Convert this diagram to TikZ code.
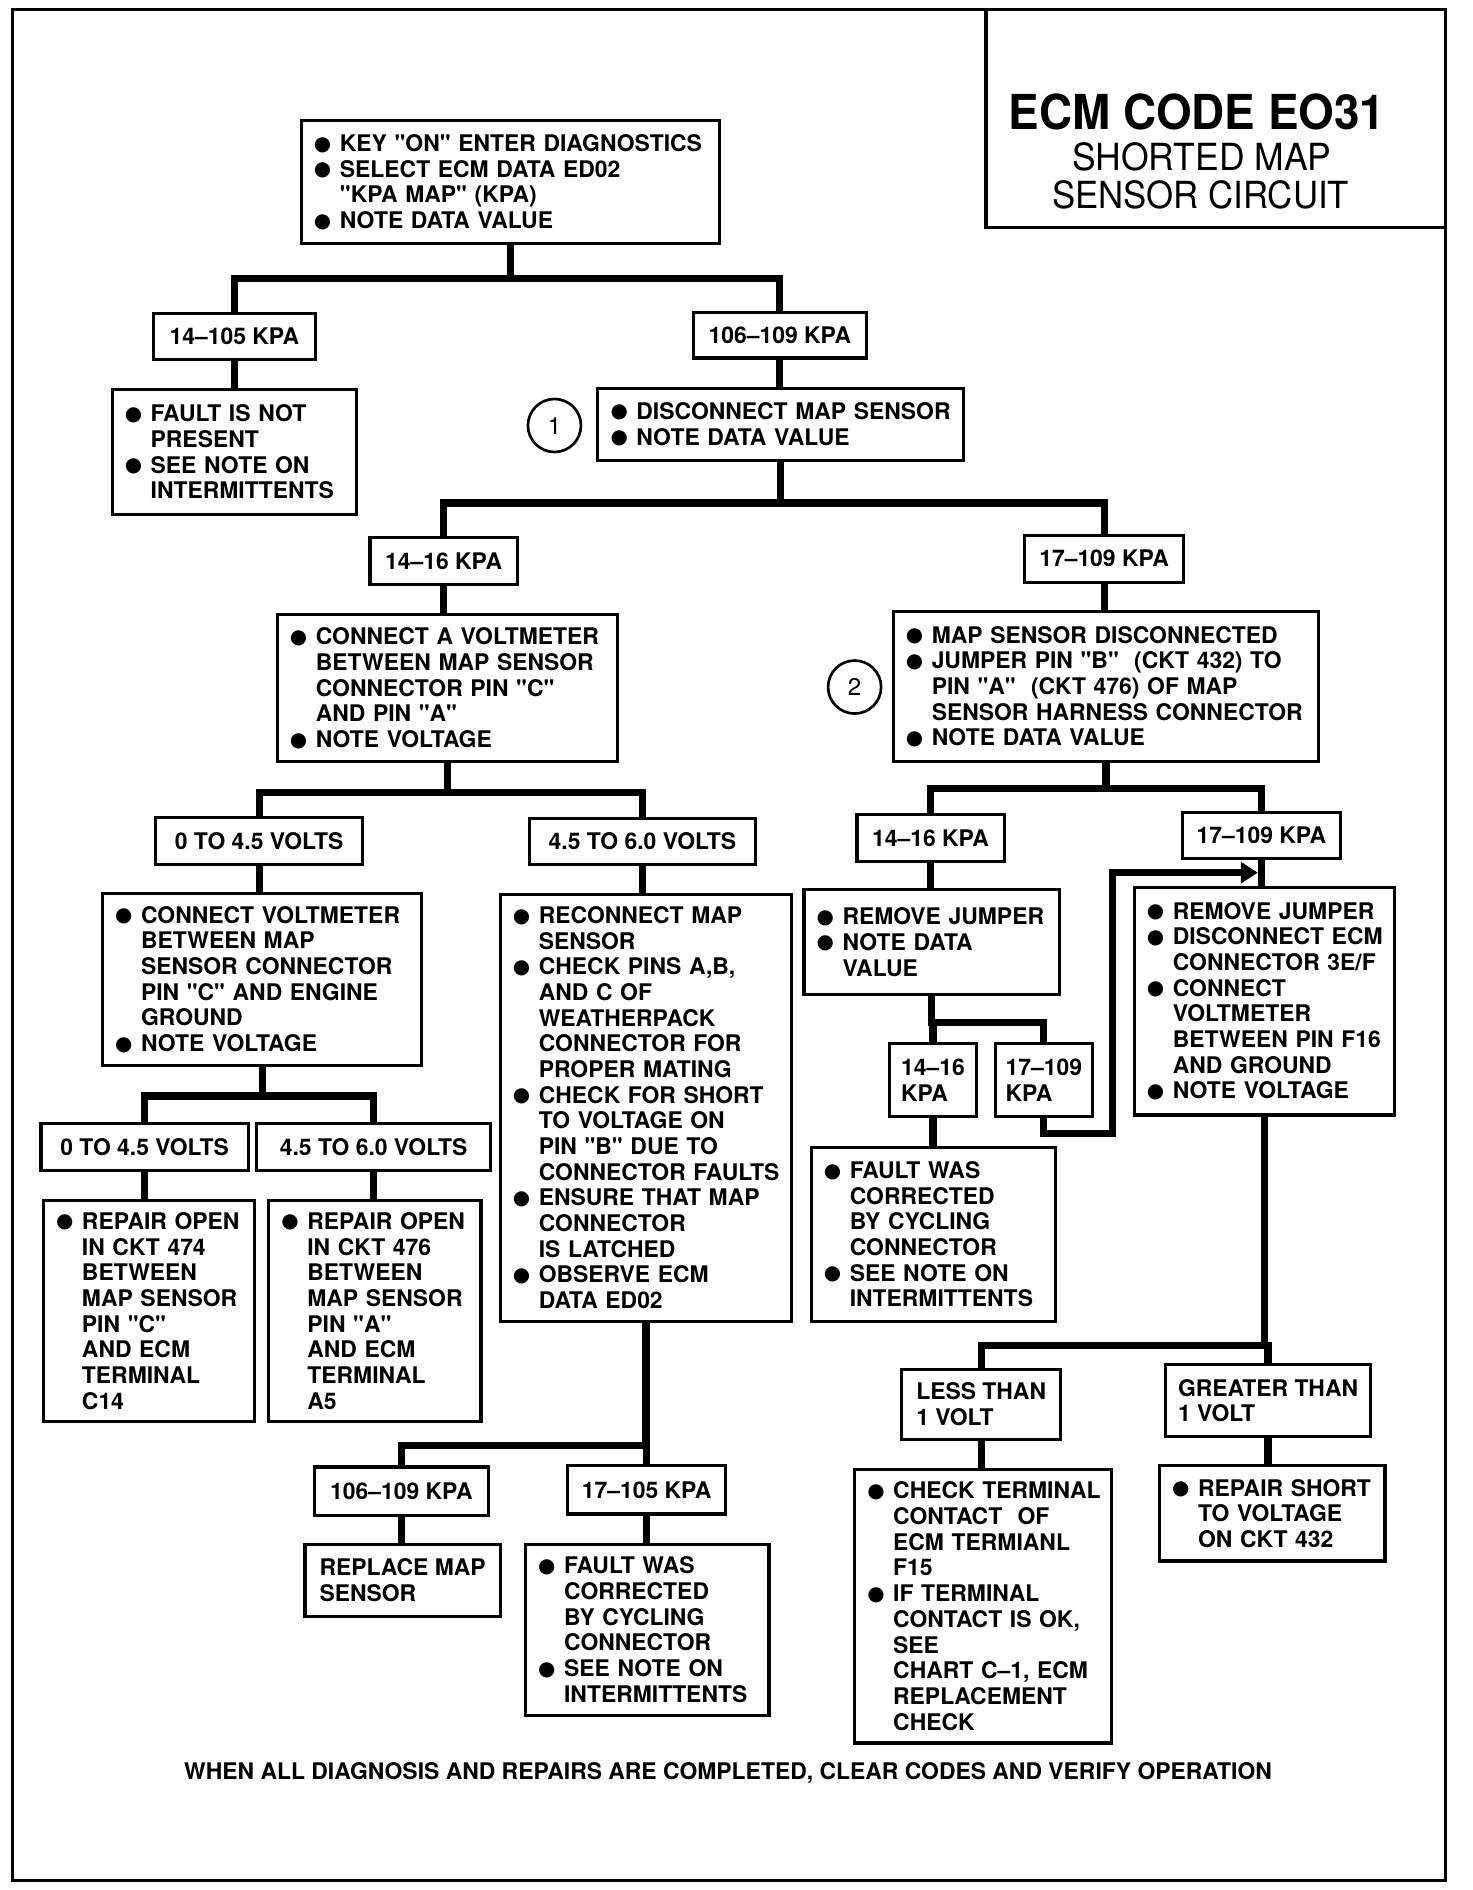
\documentclass[tikz,border=0pt]{standalone}
\usepackage{fontspec}
\usepackage{graphicx}
\newfontfamily\heros{TeX Gyre Heros}
\newfontfamily\dotfont{DejaVu Sans}
\usetikzlibrary{arrows.meta}
\newcommand{\bul}{\makebox[30pt][l]{\hspace{8.5pt}\raisebox{1.2pt}{\dotfont\fontsize{16.5}{16.5}\selectfont ●}}}
\newcommand{\ind}{\hspace*{30pt}}
\begin{document}
\begin{tikzpicture}[x=1pt,y=-1pt,
	font=\heros\fontsize{19}{21.3}\selectfont\bfseries,
	box/.style={draw,line width=2.6pt,inner xsep=2pt,inner ysep=2pt,align=left},
	tag/.style={draw,line width=2.6pt,inner sep=2pt,align=left},
	link/.style={line width=6pt},
	badge/.style={draw,circle,line width=2.2pt,minimum size=44pt,inner sep=0pt,font=\heros\fontsize{20}{20}\selectfont\mdseries},
	head/.style={inner sep=0pt,font=\heros\fontsize{31}{31}\selectfont\mdseries}]
	\useasboundingbox (0,0) rectangle (1221.5,1568);
	\draw[line width=2.5pt] (10,8) rectangle (1199,1560);
	\node[draw,line width=2.5pt,minimum width=381pt,minimum height=181pt,inner sep=0pt] (title) at (1008.5,98.5) {};
	\node[inner sep=0pt,font=\heros\fontsize{40}{40}\selectfont\bfseries] (code) at (993,93) {\scalebox{0.95}[1]{ECM CODE EO31}};
	\node[head] (name) at (997,130) {\scalebox{0.95}[1]{SHORTED MAP}};
	\node[head] (circuit) at (996,162) {\scalebox{0.93}[1]{SENSOR CIRCUIT}};

	\node[box,text width=343pt,minimum height=102pt] (keyon) at (423.5,151) {\bul KEY "ON" ENTER DIAGNOSTICS\\\bul SELECT ECM DATA ED02\\\ind "KPA MAP" (KPA)\\\bul NOTE DATA VALUE};
	\node[tag,minimum width=135pt,minimum height=38pt] (kpa105) at (194.5,279) {14–105 KPA};
	\node[tag,minimum width=144pt,minimum height=38pt] (kpa106) at (647,278) {106–109 KPA};
	\node[box,text width=199pt,minimum height=104pt] (nofault) at (194.5,375) {\bul FAULT IS NOT\\\ind PRESENT\\\bul SEE NOTE ON\\\ind INTERMITTENTS};
	\node[badge] (mark1) at (460,353) {1};
	\node[box,text width=299pt,minimum height=60pt] (unplug) at (647.5,352) {\bul DISCONNECT MAP SENSOR\\\bul NOTE DATA VALUE};
	\node[tag,minimum width=122pt,minimum height=39pt] (kpa16) at (368,465.5) {14–16 KPA};
	\node[tag,minimum width=132pt,minimum height=39pt] (kpa17) at (916,463.5) {17–109 KPA};
	\node[box,text width=278pt,minimum height=122pt] (probe) at (371,571) {\bul CONNECT A VOLTMETER\\\ind BETWEEN MAP SENSOR\\\ind CONNECTOR PIN "C"\\\ind AND PIN "A"\\\bul NOTE VOLTAGE};
	\node[badge] (mark2) at (709,570) {2};
	\node[box,text width=349pt,minimum height=125pt] (jumper) at (917.5,569.5) {\bul MAP SENSOR DISCONNECTED\\\bul JUMPER PIN "B"\ \ (CKT 432) TO\\\ind PIN "A"\ \ (CKT 476) OF MAP\\\ind SENSOR HARNESS CONNECTOR\\\bul NOTE DATA VALUE};

	\node[tag,minimum width=172pt,minimum height=39pt] (volts45) at (215,697.5) {0 TO 4.5 VOLTS};
	\node[tag,minimum width=188pt,minimum height=38pt] (volts60) at (533,698) {4.5 TO 6.0 VOLTS};
	\node[tag,minimum width=122pt,minimum height=39pt] (jump16) at (772,695.5) {14–16 KPA};
	\node[tag,minimum width=131pt,minimum height=38pt] (jump17) at (1046.5,693) {17–109 KPA};
	\node[box,text width=261pt,minimum height=143pt] (probegnd) at (217.5,812.5) {\bul CONNECT VOLTMETER\\\ind BETWEEN MAP\\\ind SENSOR CONNECTOR\\\ind PIN "C" AND ENGINE\\\ind GROUND\\\bul NOTE VOLTAGE};
	\node[box,text width=238pt,minimum height=354pt] (reconnect) at (536,919) {\bul RECONNECT MAP\\\ind SENSOR\\\bul CHECK PINS A,B,\\\ind AND C OF\\\ind WEATHERPACK\\\ind CONNECTOR FOR\\\ind PROPER MATING\\\bul CHECK FOR SHORT\\\ind TO VOLTAGE ON\\\ind PIN "B" DUE TO\\\ind CONNECTOR FAULTS\\\bul ENSURE THAT MAP\\\ind CONNECTOR\\\ind IS LATCHED\\\bul OBSERVE ECM\\\ind DATA ED02};
	\node[box,text width=208pt,minimum height=87pt] (unjump) at (773,781.5) {\bul REMOVE JUMPER\\\bul NOTE DATA\\\ind VALUE};
	\node[box,text width=212pt,minimum height=189pt] (ecmprobe) at (1049,830.5) {\bul REMOVE JUMPER\\\bul DISCONNECT ECM\\\ind CONNECTOR 3E/F\\\bul CONNECT\\\ind VOLTMETER\\\ind BETWEEN PIN F16\\\ind AND GROUND\\\bul NOTE VOLTAGE};

	\node[tag,minimum width=172pt,minimum height=39pt] (gnd45) at (120,951.5) {0 TO 4.5 VOLTS};
	\node[tag,minimum width=194pt,minimum height=39pt] (gnd60) at (310,951.5) {4.5 TO 6.0 VOLTS};
	\node[box,text width=171pt,minimum height=183pt] (open474) at (123.5,1087.5) {\bul REPAIR OPEN\\\ind IN CKT 474\\\ind BETWEEN\\\ind MAP SENSOR\\\ind PIN "C"\\\ind AND ECM\\\ind TERMINAL\\\ind C14};
	\node[box,text width=172pt,minimum height=183pt] (open476) at (311,1087.5) {\bul REPAIR OPEN\\\ind IN CKT 476\\\ind BETWEEN\\\ind MAP SENSOR\\\ind PIN "A"\\\ind AND ECM\\\ind TERMINAL\\\ind A5};
	\node[tag,minimum width=72pt,minimum height=60pt] (rej16) at (774,896) {14–16\\KPA};
	\node[tag,minimum width=80pt,minimum height=60pt] (rej17) at (866,896) {17–109\\KPA};
	\node[box,text width=199pt,minimum height=144pt] (cycled) at (774.5,1024) {\bul FAULT WAS\\\ind CORRECTED\\\ind BY CYCLING\\\ind CONNECTOR\\\bul SEE NOTE ON\\\ind INTERMITTENTS};
	\node[tag,minimum width=132pt,minimum height=58pt] (lessv) at (814,1165) {LESS THAN\\1 VOLT};
	\node[tag,minimum width=170pt,minimum height=60pt] (morev) at (1052,1162) {GREATER THAN\\1 VOLT};
	\node[box,text width=209pt,minimum height=227pt] (terminal) at (815.5,1332.5) {\bul CHECK TERMINAL\\\ind CONTACT\ \ OF\\\ind ECM TERMIANL\\\ind F15\\\bul IF TERMINAL\\\ind CONTACT IS OK,\\\ind SEE\\\ind CHART C–1, ECM\\\ind REPLACEMENT\\\ind CHECK};
	\node[box,text width=183pt,minimum height=79pt] (short432) at (1055.5,1255.5) {\bul REPAIR SHORT\\\ind TO VOLTAGE\\\ind ON CKT 432};
	\node[tag,minimum width=144pt,minimum height=40pt] (ed106) at (333,1237) {106–109 KPA};
	\node[tag,minimum width=131pt,minimum height=40pt] (ed17) at (536.5,1236) {17–105 KPA};
	\node[tag,minimum width=162pt,minimum height=60pt] (replace) at (334,1311) {REPLACE MAP\\SENSOR};
	\node[box,text width=198pt,minimum height=142pt] (cycledb) at (537,1352) {\bul FAULT WAS\\\ind CORRECTED\\\ind BY CYCLING\\\ind CONNECTOR\\\bul SEE NOTE ON\\\ind INTERMITTENTS};
	\node (footer) at (604,1471) {WHEN ALL DIAGNOSIS AND REPAIRS ARE COMPLETED, CLEAR CODES AND VERIFY OPERATION};

	\draw[link] (keyon.south) -- ++(0,28) -| (kpa105.north);
	\draw[link] (keyon.south) -- ++(0,28) -| (kpa106.north);
	\draw[link] (kpa105.south) -- (kpa105.south |- nofault.north);
	\draw[link] (kpa106.south) -- (kpa106.south |- unplug.north);
	\draw[link] (unplug.south) -- ++(0,34) -| (kpa16.north);
	\draw[link] (unplug.south) -- ++(0,34) -| (kpa17.north);
	\draw[link] (kpa16.south) -- (kpa16.south |- probe.north);
	\draw[link] (kpa17.south) -- (kpa17.south |- jumper.north);
	\draw[link] (probe.south) -- ++(0,24) -| (volts45.north);
	\draw[link] (probe.south) -- ++(0,24) -| (volts60.north);
	\draw[link] (jumper.south) -- ++(0,21) -| (jump16.north);
	\draw[link] (jumper.south) -- ++(0,21) -| (jump17.north);
	\draw[link] (volts45.south) -- (volts45.south |- probegnd.north);
	\draw[link] (volts60.south) -- (volts60.south |- reconnect.north);
	\draw[link] (jump16.south) -- (jump16.south |- unjump.north);
	\draw[link] (jump17.south) -- (jump17.south |- ecmprobe.north);
	\draw[link] (probegnd.south) -- ++(0,24) -| (gnd45.north);
	\draw[link] (probegnd.south) -- ++(0,24) -| (gnd60.north);
	\draw[link] (gnd45.south) -- (gnd45.south |- open474.north);
	\draw[link] (gnd60.south) -- (gnd60.south |- open476.north);
	\draw[link] (unjump.south) -- ++(0,22) -| (rej16.north);
	\draw[link] (unjump.south) -- ++(0,22) -| (rej17.north);
	\draw[link] (rej16.south) -- (rej16.south |- cycled.north);
	\coordinate (bend) at (923,724);
	\coordinate (hit) at (jump17.south |- bend);
	\draw[link,-{Triangle[length=14pt,width=17pt]},shorten >=3pt] (rej17.south) -- ++(0,13) -| (bend) -- (hit);
	\draw[link] (ecmprobe.south) -- ++(0,190) -| (lessv.north);
	\draw[link] (ecmprobe.south) -- ++(0,190) -| (morev.north);
	\draw[link] (lessv.south) -- (lessv.south |- terminal.north);
	\draw[link] (morev.south) -- (morev.south |- short432.north);
	\draw[link] (reconnect.south) -- ++(0,102) -| (ed106.north);
	\draw[link] (reconnect.south) -- ++(0,102) -| (ed17.north);
	\draw[link] (ed106.south) -- (ed106.south |- replace.north);
	\draw[link] (ed17.south) -- (ed17.south |- cycledb.north);
\end{tikzpicture}
\end{document}
